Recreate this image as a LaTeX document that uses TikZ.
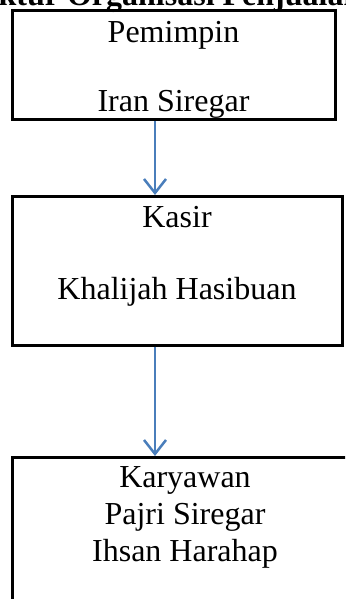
\documentclass[tikz,border=0pt]{standalone}
\usepackage{fontspec}
\setmainfont{Liberation Serif}
\usetikzlibrary{arrows.meta}
\definecolor{arrowblue}{RGB}{74,126,187}
\begin{document}
\begin{tikzpicture}[x=1pt,y=-1pt,
  box/.style={draw=black,line width=3pt,inner sep=0pt},
  lbl/.style={anchor=base,inner sep=0pt,font=\fontsize{32}{37}\selectfont},
  ttl/.style={anchor=base west,inner sep=0pt,font=\fontsize{32}{37}\selectfont\bfseries},
  conn/.style={draw=arrowblue,line width=2.5pt,-{Straight Barb[length=14pt,width=22pt]}}]
\useasboundingbox (0,0) rectangle (345,599);
\clip (0,0) rectangle (345,599);
% title (cut at top, as in the reference)
\node[ttl] (title) at (-62,6) {Struktur Organisasi Penjualan};
% boxes
\node[box,minimum width=322.8pt,minimum height=108.8pt] (pem) at (173.9,65.1) {};
\node[box,minimum width=329.5pt,minimum height=148.5pt] (kas) at (177.25,270.75) {};
\node[box,minimum width=345.5pt,minimum height=182.5pt] (kar) at (185.25,548.75) {};
% texts
\node[lbl] (t1) at (173.5,43) {Pemimpin};
\node[lbl] (t2) at (173.5,111) {Iran Siregar};
\node[lbl] (t3) at (177,227) {Kasir};
\node[lbl] (t4) at (177,299) {Khalijah Hasibuan};
\node[lbl] (t5) at (185,487) {Karyawan};
\node[lbl] (t6) at (185,524) {Pajri Siregar};
\node[lbl] (t7) at (185,561) {Ihsan Harahap};
% connectors
\coordinate (ax) at (155,0);
\draw[conn] (ax |- pem.south) -- (ax |- kas.north);
\draw[conn] (ax |- kas.south) -- (ax |- kar.north);
\end{tikzpicture}
\end{document}
